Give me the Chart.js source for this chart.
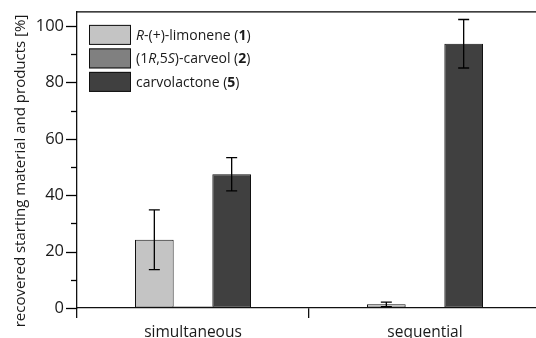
<!DOCTYPE html>
<html>
<head>
<meta charset="utf-8">
<script src="https://cdn.jsdelivr.net/npm/chart.js@4.4.1/dist/chart.umd.min.js"></script>
<style>
  html, body { margin: 0; padding: 0; background: #fff; overflow: hidden; }
  #wrap { position: relative; width: 541px; height: 338px; }
</style>
</head>
<body>
<div id="wrap"><canvas id="c"></canvas></div>
<script>
const categories = ["simultaneous", "sequential"];
const limonene = [24.2, 1.3];
const limoneneErr = [10.6, 0.8];
const carveol = [0.5, 0.3];
const carveolErr = [0, 0];
const carvolactone = [47.4, 93.7];
const carvolactoneErr = [5.9, 8.6];
const yTickLabels = [0, 20, 40, 60, 80, 100];

const FONT = "'Open Sans', Lato, sans-serif";
const TXT = "#1a1a1a";

const legendItems = [
  { color: "#c4c4c4", parts: [["R", "italic"], ["-(+)-limonene (", ""], ["1", "bold"], [")", ""]] },
  { color: "#808080", parts: [["(1", ""], ["R", "italic"], [",5", ""], ["S", "italic"], [")-carveol (", ""], ["2", "bold"], [")", ""]] },
  { color: "#404040", parts: [["carvolactone (", ""], ["5", "bold"], [")", ""]] }
];

const extras = {
  id: "extras",
  afterDatasetsDraw(chart) {
    const ctx = chart.ctx;
    const ca = chart.chartArea;
    const y = chart.scales.y;
    ctx.save();
    // error bars
    ctx.strokeStyle = "#000";
    ctx.lineWidth = 1.3;
    chart.data.datasets.forEach((ds, di) => {
      const meta = chart.getDatasetMeta(di);
      meta.data.forEach((bar, i) => {
        const e = ds.err[i];
        if (!e) return;
        const v = ds.data[i];
        const yt = y.getPixelForValue(v + e);
        const yb = y.getPixelForValue(Math.max(0, v - e));
        const x = bar.x;
        ctx.beginPath();
        ctx.moveTo(x, yt); ctx.lineTo(x, yb);
        ctx.moveTo(x - 5.5, yt); ctx.lineTo(x + 5.5, yt);
        ctx.moveTo(x - 5.5, yb); ctx.lineTo(x + 5.5, yb);
        ctx.stroke();
      });
    });
    // top border
    ctx.lineWidth = 1.3;
    ctx.beginPath();
    ctx.moveTo(ca.left, ca.top); ctx.lineTo(ca.right, ca.top);
    ctx.stroke();
    // y ticks (major and minor)
    for (let v = 0; v <= 100; v += 10) {
      const py = Math.round(y.getPixelForValue(v)) + 0.5;
      const len = (v % 20 === 0) ? 11 : 6;
      ctx.beginPath();
      ctx.moveTo(ca.left - len, py); ctx.lineTo(ca.left, py);
      ctx.stroke();
    }
    // y title
    ctx.fillStyle = TXT;
    ctx.font = "15px " + FONT;
    ctx.textAlign = "center";
    ctx.textBaseline = "middle";
    ctx.translate(21, 171);
    ctx.rotate(-Math.PI / 2);
    ctx.fillText("recovered starting material and products [%]", 0, 0);
    ctx.setTransform(1, 0, 0, 1, 0, 0);
    // legend
    const bx = ca.left + 12, by0 = ca.top + 13, bw = 42, bh = 20, pitch = 23.5;
    legendItems.forEach((it, k) => {
      const by = by0 + k * pitch;
      ctx.fillStyle = it.color;
      ctx.fillRect(bx, by, bw, bh);
      ctx.strokeStyle = "#111";
      ctx.lineWidth = 1;
      ctx.strokeRect(bx + 0.5, by + 0.5, bw - 1, bh - 1);
      let tx = bx + bw + 5;
      ctx.fillStyle = TXT;
      ctx.textAlign = "left";
      ctx.textBaseline = "middle";
      it.parts.forEach(([t, st]) => {
        ctx.font = (st === "italic" ? "italic " : "") + (st === "bold" ? "bold " : "") + "14px " + FONT;
        ctx.fillText(t, tx, by + bh / 2 + 1);
        tx += ctx.measureText(t).width;
      });
    });
    ctx.restore();
  }
};

const mk = (label, data, err, color) => ({
  label, data, err,
  backgroundColor: color,
  borderColor: "#111",
  borderWidth: 1,
  borderSkipped: false,
  categoryPercentage: 0.5,
  barPercentage: 1.0
});

new Chart(document.getElementById("c"), {
  type: "bar",
  data: {
    labels: categories,
    datasets: [
      mk("R-(+)-limonene (1)", limonene, limoneneErr, "#c4c4c4"),
      mk("(1R,5S)-carveol (2)", carveol, carveolErr, "#808080"),
      mk("carvolactone (5)", carvolactone, carvolactoneErr, "#404040")
    ]
  },
  options: {
    responsive: true,
    maintainAspectRatio: false,
    animation: false,
    layout: { padding: { top: 10, right: 0, bottom: 0, left: 0 } },
    plugins: { legend: { display: false }, tooltip: { enabled: false } },
    scales: {
      x: {
        offset: true,
        grid: { display: true, drawOnChartArea: false, drawTicks: true, tickLength: 10, color: "#111", lineWidth: 1.3, offset: true },
        border: { display: true, color: "#111", width: 1.3 },
        ticks: { color: TXT, font: { family: FONT, size: 15.5 }, padding: 5, maxRotation: 0 },
        afterFit(s) { s.height = 30; }
      },
      y: {
        min: 0, max: 105,
        afterBuildTicks(s) { s.ticks = yTickLabels.map(v => ({ value: v })); },
        grid: { display: true, drawOnChartArea: false, drawTicks: true, tickLength: 11, color: "transparent" },
        border: { display: true, color: "#111", width: 1.3 },
        ticks: { color: TXT, font: { family: FONT, size: 16.5 }, padding: 2 },
        afterFit(s) { s.width = 77; }
      }
    }
  },
  plugins: [extras]
});
</script>
</body>
</html>
